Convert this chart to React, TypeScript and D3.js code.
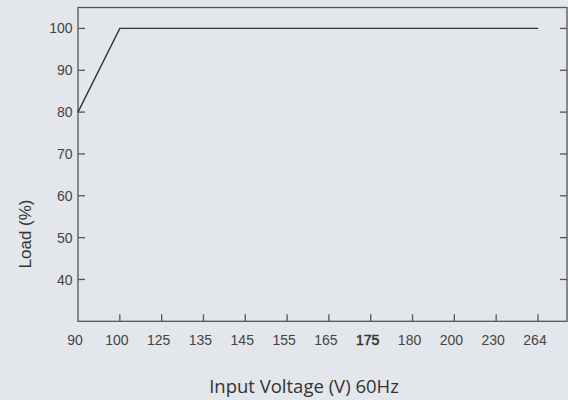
import React from 'react'
import * as d3 from 'd3'

// data
const voltages = ['90', '100', '125', '135', '145', '155', '165', '175', '180', '200', '230', '264']
const lineVoltages = ['90', '100', '264']
const lineLoads = [80, 100, 100]
const loadTicks = [40, 50, 60, 70, 80, 90, 100]

const W = 568
const H = 400
const left = 78
const right = 567
const top = 7.5
const bottom = 321.3

export default function App() {
  const x = d3.scalePoint<string>().domain(voltages).range([left, 538])
  const y = d3.scaleLinear().domain([30, 105]).range([bottom, top])

  const line = d3.line<number>()
    .x((_, i) => x(lineVoltages[i]) as number)
    .y((d) => y(d))

  const tickColor = '#555'
  const labelFont = '"Liberation Sans", Arial, sans-serif'

  return (
    <svg width={W} height={H} style={{ position: 'absolute', left: 0, top: 0, background: '#e3e6eb' }}>
      <rect x={0} y={0} width={W} height={H} fill="#e3e6eb" />
      {/* frame */}
      <rect x={left} y={top} width={right - left} height={bottom - top} fill="none" stroke={tickColor} strokeWidth={1.3} />

      {/* y ticks, both sides, pointing inward */}
      {loadTicks.map((t) => (
        <g key={t}>
          <line x1={left} x2={left + 7} y1={y(t)} y2={y(t)} stroke={tickColor} strokeWidth={1.3} />
          <line x1={right - 7} x2={right} y1={y(t)} y2={y(t)} stroke={tickColor} strokeWidth={1.3} />
          <text x={72.5} y={y(t)} dy="0.36em" textAnchor="end" fontSize={14} fontFamily={labelFont} fill="#444">{t}</text>
        </g>
      ))}

      {/* x ticks */}
      {voltages.map((v) => (
        <g key={v}>
          {v !== '90' && (
            <line x1={x(v)} x2={x(v)} y1={bottom} y2={bottom - 7} stroke={tickColor} strokeWidth={1.3} />
          )}
          <text x={(x(v) as number) - 3} y={345} textAnchor="middle" fontSize={14} fontFamily={labelFont}
            fill={v === '175' ? '#333' : '#444'}
            stroke={v === '175' ? '#333' : 'none'} strokeWidth={0.5}>{v}</text>
        </g>
      ))}

      {/* load line */}
      <path d={line(lineLoads) || ''} fill="none" stroke="#333" strokeWidth={1.4} />

      {/* axis titles */}
      <text transform={`translate(31,234) rotate(-90)`} textAnchor="middle" fontSize={17} fontFamily={labelFont} fill="#333">Load (%)</text>
      <text x={304} y={392.5} textAnchor="middle" fontSize={18.5} fontFamily='"Open Sans", sans-serif' fill="#333">Input Voltage (V) 60Hz</text>
    </svg>
  )
}
